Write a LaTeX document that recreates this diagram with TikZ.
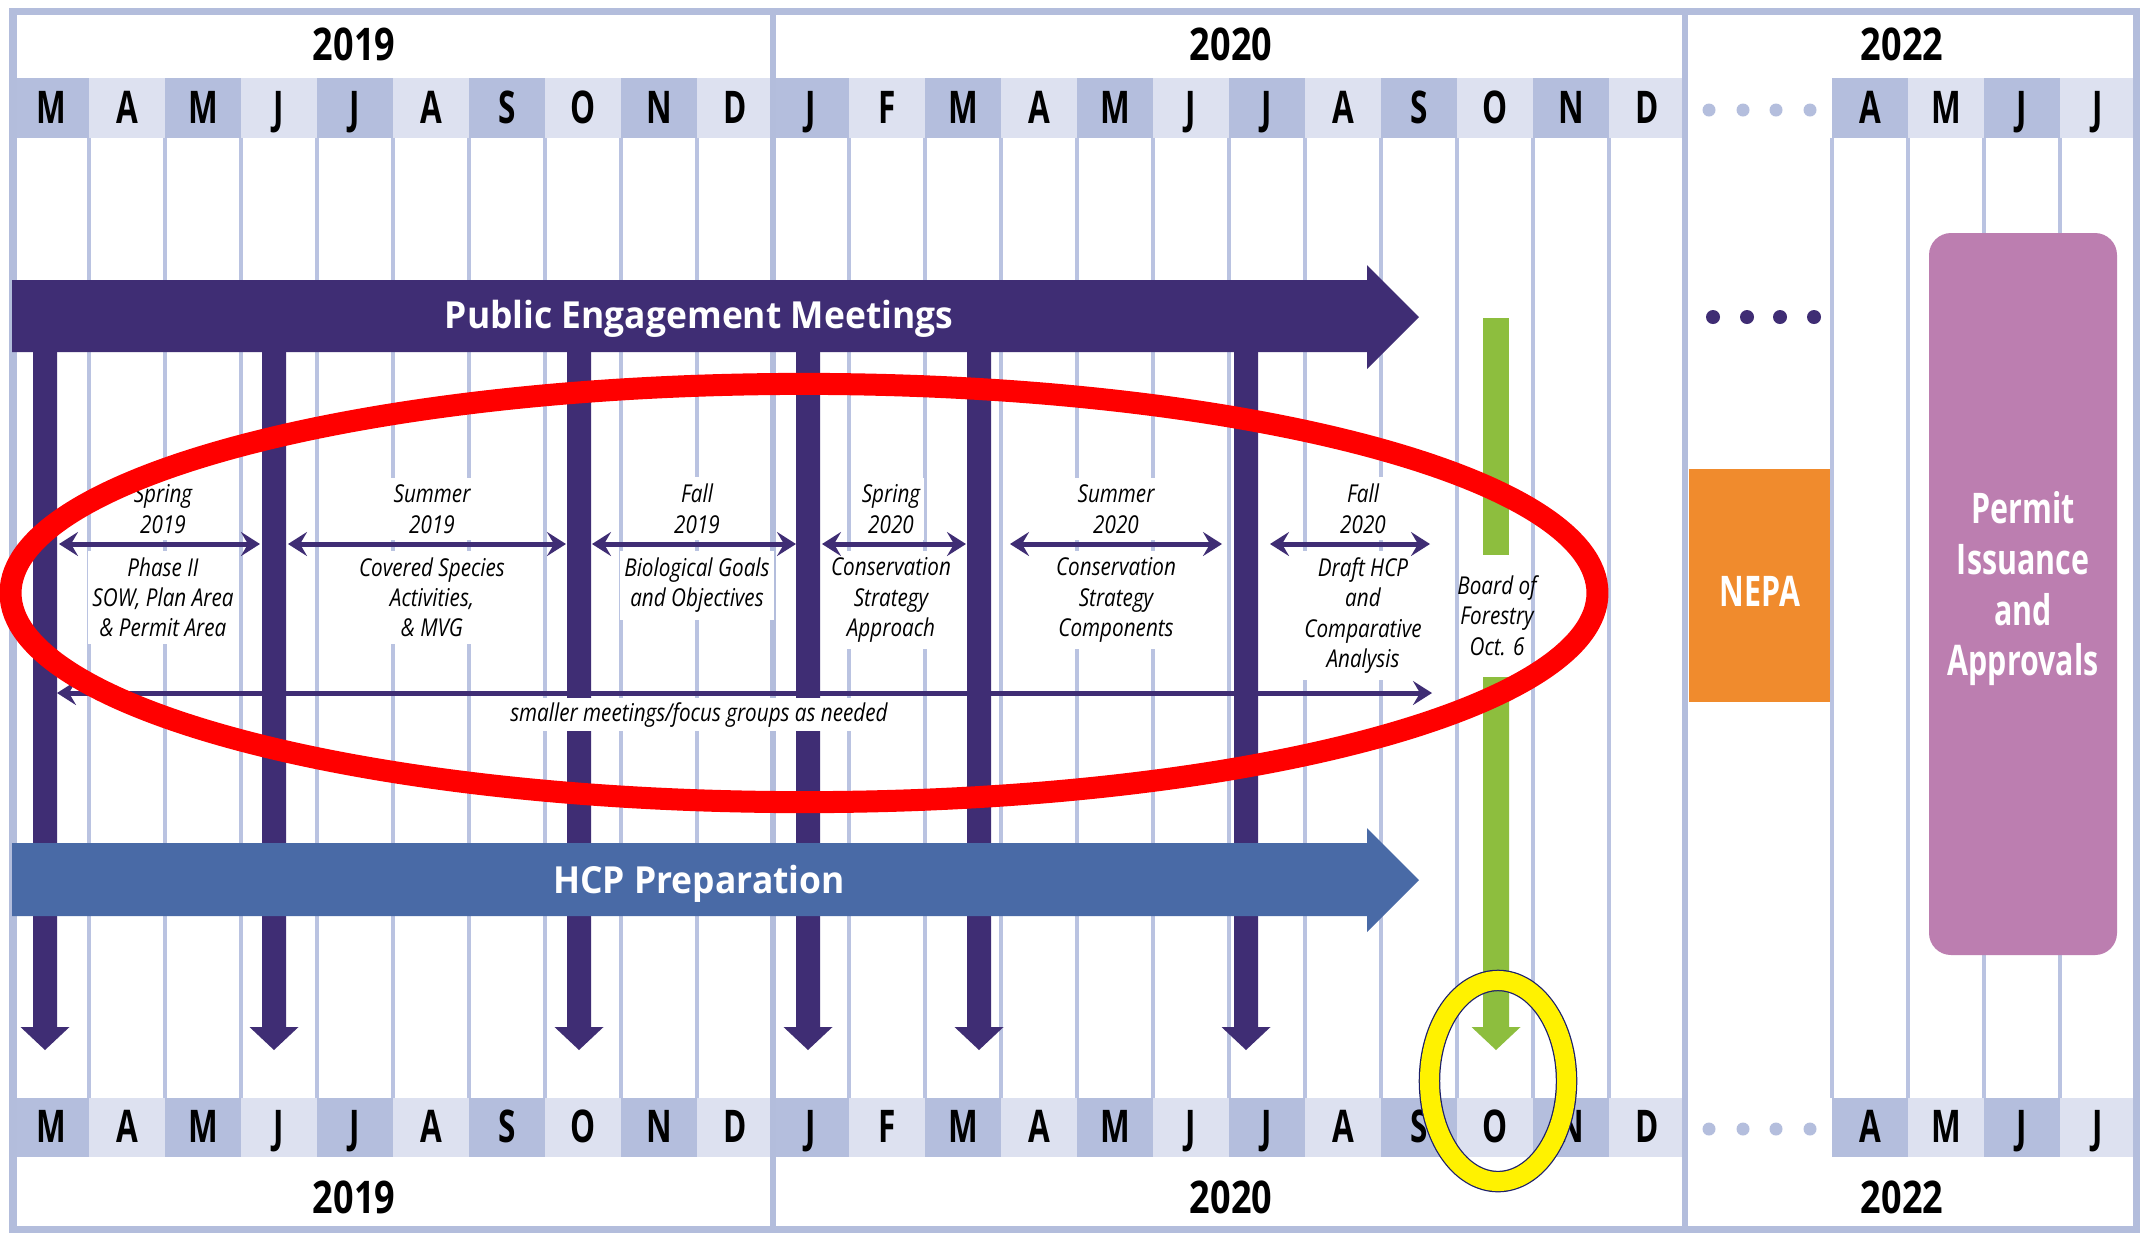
\documentclass[tikz,border=0pt]{standalone}
\usepackage{fontspec}
\setmainfont{Open Sans}
\newfontfamily\monthfont[FakeStretch=0.70]{Open Sans}
\newfontfamily\yearfont[FakeStretch=0.80]{Open Sans}
\newfontfamily\notefont[FakeStretch=0.84]{Open Sans}
\newfontfamily\bandfont[FakeStretch=0.95]{Open Sans}
\newfontfamily\boxfont[FakeStretch=0.72]{Open Sans}
\usetikzlibrary{arrows.meta}

\definecolor{framec}{HTML}{B3BDDC}
\definecolor{gridc}{HTML}{BAC3E1}
\definecolor{mdark}{HTML}{B4BEDD}
\definecolor{mlight}{HTML}{DDE1F0}
\definecolor{pem}{HTML}{3F2D74}
\definecolor{hcp}{HTML}{496AA6}
\definecolor{bof}{HTML}{8DBE3E}
\definecolor{nepa}{HTML}{F08B2D}
\definecolor{permit}{HTML}{BC7EB0}
\definecolor{navy}{HTML}{1C1F6B}

\tikzset{chev/.tip={Stealth[length=0.19cm,width=0.24cm,inset=0.07cm]}}

\begin{document}
\begin{tikzpicture}[x=0.01cm,y=-0.01cm,
  monthlbl/.style={font=\monthfont\bfseries\fontsize{12.8}{14}\selectfont, anchor=base, inner sep=0pt},
  yearlbl/.style={font=\yearfont\bfseries\fontsize{12.8}{14}\selectfont, anchor=base, inner sep=0pt},
  notelbl/.style={font=\notefont\itshape\fontsize{7}{8.6}\selectfont, align=center, fill=white, inner xsep=0.04cm, inner ysep=0.07cm},
  seasonlbl/.style={notelbl, anchor=south},
  desclbl/.style={notelbl, anchor=north},
  bandlbl/.style={font=\bandfont\bfseries\fontsize{10.6}{12}\selectfont, text=white, anchor=base, inner sep=0pt},
  boxlbl/.style={font=\boxfont\bfseries\fontsize{12}{14.4}\selectfont, text=white, align=center, inner sep=0pt},
  gridline/.style={gridc, line width=0.035cm},
  yearsep/.style={framec, line width=0.06cm},
  twoway/.style={pem, line width=0.05cm, chev-chev},
]
\useasboundingbox (0,0) rectangle (2145,1235);
\fill[white] (0,0) rectangle (2145,1235);

% month strips (top and bottom), 2019-2020
\foreach \l [count=\i from 0] in {M,A,M,J,J,A,S,O,N,D,J,F,M,A,M,J,J,A,S,O,N,D} {
  \ifodd\i \def\shade{mlight}\else \def\shade{mdark}\fi
  \fill[\shade] ({13+76*\i},78) rectangle ({89+76*\i},138);
  \fill[\shade] ({13+76*\i},1098) rectangle ({89+76*\i},1157);
  \node[monthlbl] (mt-\i) at ({51+76*\i},123) {\l};
  \node[monthlbl] (mb-\i) at ({51+76*\i},1142) {\l};
}
% month strips, 2022
\foreach \l [count=\j from 0] in {A,M,J,J} {
  \ifodd\j \def\shade{mlight}\else \def\shade{mdark}\fi
  \fill[\shade] ({1832+76*\j},78) rectangle ({1908+76*\j},138);
  \fill[\shade] ({1832+76*\j},1098) rectangle ({1908+76*\j},1157);
  \node[monthlbl] (nt-\j) at ({1870+76*\j},123) {\l};
  \node[monthlbl] (nb-\j) at ({1870+76*\j},1142) {\l};
}
% skipped months
\foreach \d in {1709,1743,1776,1810} {
  \fill[mdark] (\d,110) circle[radius=0.065cm];
  \fill[mdark] (\d,1129) circle[radius=0.065cm];
}

% month grid
\foreach \k in {1,...,9,11,12,...,21}
  \draw[gridline] ({13+76*\k},138) -- ({13+76*\k},1098);
\foreach \x in {1832,1908,1984,2060}
  \draw[gridline] (\x,138) -- (\x,1098);

% frame and year dividers
\draw[framec, line width=0.07cm] (13,11) rectangle (2136,1229);
\draw[yearsep] (773,11) -- (773,1229);
\draw[yearsep] (1685,11) -- (1685,1229);

% years
\node[yearlbl] (y19t) at (354,60) {2019};
\node[yearlbl] (y20t) at (1231,60) {2020};
\node[yearlbl] (y22t) at (1902,60) {2022};
\node[yearlbl] (y19b) at (354,1213) {2019};
\node[yearlbl] (y20b) at (1231,1213) {2020};
\node[yearlbl] (y22b) at (1902,1213) {2022};

% meeting drops
\foreach \c in {45,274,579,808,979,1246}
  \fill[pem] (\c-12,340) -- (\c+12,340) -- (\c+12,1027) -- (\c+24.5,1027)
    -- (\c,1050) -- (\c-24.5,1027) -- (\c-12,1027) -- cycle;

% Public Engagement Meetings band
\fill[pem] (12,280) -- (1367,280) -- (1367,265) -- (1419,317) -- (1367,369)
  -- (1367,352) -- (12,352) -- cycle;
\node[bandlbl] (pe) at (699,328) {Public Engagement Meetings};

% HCP Preparation band
\fill[hcp] (12,843) -- (1367,843) -- (1367,828) -- (1419,880) -- (1367,932)
  -- (1367,916) -- (12,916) -- cycle;
\node[bandlbl] (hcpl) at (699,893) {HCP Preparation};

% season labels and topics
\node[seasonlbl] (ss1) at (163,541) {Spring\\2019};
\node[desclbl] (ds1) at (163,550) {Phase II\\SOW, Plan Area\\\& Permit Area};
\node[seasonlbl] (ss2) at (432,541) {Summer\\2019};
\node[desclbl] (ds2) at (432,550) {Covered Species\\Activities,\\\& MVG};
\node[seasonlbl] (ss3) at (697,541) {Fall\\2019};
\node[desclbl] (ds3) at (697,550) {Biological Goals\\and Objectives};
\node[seasonlbl] (ss4) at (891,541) {Spring\\2020};
\node[desclbl] (ds4) at (891,550) {Conservation\\Strategy\\Approach};
\node[seasonlbl] (ss5) at (1116,541) {Summer\\2020};
\node[desclbl] (ds5) at (1116,550) {Conservation\\Strategy\\Components};
\node[seasonlbl] (ss6) at (1363,541) {Fall\\2020};
\node[desclbl] (ds6) at (1363,550) {Draft HCP\\and\\Comparative\\Analysis};
\node[notelbl, anchor=base, inner ysep=0.04cm] (small) at (699,721)
  {smaller meetings/focus groups as needed};

% season spans
\coordinate (a1) at (59,544);   \coordinate (b1) at (260,544);
\coordinate (a2) at (288,544);  \coordinate (b2) at (566,544);
\coordinate (a3) at (592,544);  \coordinate (b3) at (796,544);
\coordinate (a4) at (822,544);  \coordinate (b4) at (966,544);
\coordinate (a5) at (1010,544); \coordinate (b5) at (1222,544);
\coordinate (a6) at (1270,544); \coordinate (b6) at (1430,544);
\coordinate (a7) at (57,693);   \coordinate (b7) at (1432,693);
\foreach \n in {1,...,7}
  \draw[twoway] (a\n) -- (b\n);

% Board of Forestry
\fill[bof] (1483,318) rectangle (1509,555);
\fill[bof] (1483,677) -- (1509,677) -- (1509,1027) -- (1520.5,1027) -- (1496,1050)
  -- (1471.5,1027) -- (1483,1027) -- cycle;
\node[font=\notefont\itshape\fontsize{7}{8.6}\selectfont, align=center, anchor=north, inner sep=0pt]
  (bof) at (1497,575) {Board of\\Forestry\\Oct. 6};

% NEPA
\foreach \d in {1713,1747,1780,1814}
  \fill[pem] (\d,317) circle[radius=0.07cm];
\fill[nepa] (1689,469) rectangle (1830,702);
\node[boxlbl, anchor=base] (nepal) at (1760,606) {NEPA};

% Permit Issuance and Approvals
\fill[permit, rounded corners=0.22cm] (1929,233) rectangle (2117,955);
\node[boxlbl, anchor=north] (permitl) at (2023,491) {Permit\\Issuance\\and\\Approvals};

% highlights
\draw[red, line width=0.22cm] (804,593) ellipse [x radius=7.93cm, y radius=2.09cm];
\draw[navy, line width=0.215cm] (1498,1081) ellipse [x radius=0.685cm, y radius=1.005cm];
\draw[yellow, line width=0.19cm] (1498,1081) ellipse [x radius=0.685cm, y radius=1.005cm];
\end{tikzpicture}
\end{document}
